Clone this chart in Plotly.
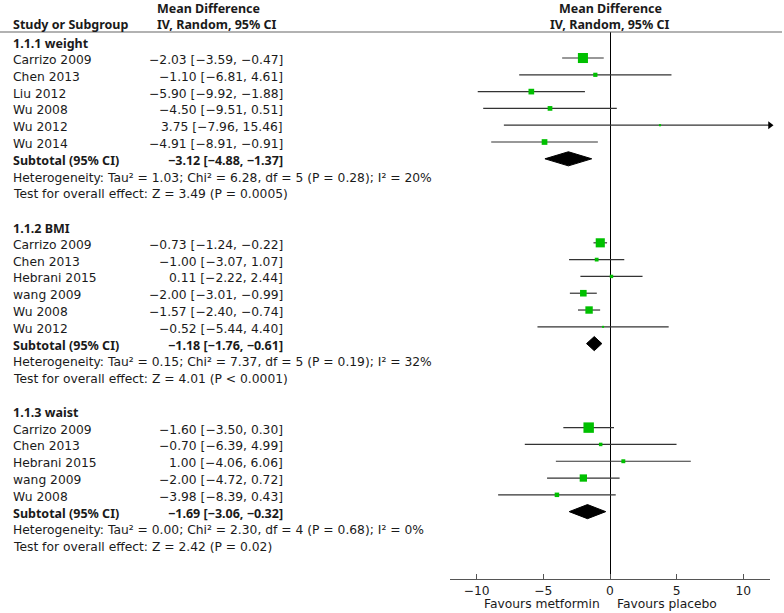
import math
import plotly.graph_objects as go

FONT = "DejaVu Sans"
BOLD_FONT = "Noto Sans"
TXT = "#1a1a1a"
GREEN = "#00C000"

# subgroup data
group_titles = ["1.1.1 weight", "1.1.2 BMI", "1.1.3 waist"]

weight_studies = ["Carrizo 2009", "Chen 2013", "Liu 2012", "Wu 2008", "Wu 2012", "Wu 2014"]
weight_md = [-2.03, -1.10, -5.90, -4.50, 3.75, -4.91]
weight_lo = [-3.59, -6.81, -9.92, -9.51, -7.96, -8.91]
weight_hi = [-0.47, 4.61, -1.88, 0.51, 15.46, -0.91]
weight_pct = [48.1, 8.4, 15.3, 10.6, 2.2, 15.4]
weight_total = [-3.12, -4.88, -1.37]
weight_het = "Heterogeneity: Tau² = 1.03; Chi² = 6.28, df = 5 (P = 0.28); I² = 20%"
weight_test = "Test for overall effect: Z = 3.49 (P = 0.0005)"

bmi_studies = ["Carrizo 2009", "Chen 2013", "Hebrani 2015", "wang 2009", "Wu 2008", "Wu 2012"]
bmi_md = [-0.73, -1.00, 0.11, -2.00, -1.57, -0.52]
bmi_lo = [-1.24, -3.07, -2.22, -3.01, -2.40, -5.44]
bmi_hi = [-0.22, 1.07, 2.44, -0.99, -0.74, 4.40]
bmi_pct = [39.5, 6.8, 5.5, 20.7, 26.1, 1.3]
bmi_total = [-1.18, -1.76, -0.61]
bmi_het = "Heterogeneity: Tau² = 0.15; Chi² = 7.37, df = 5 (P = 0.19); I² = 32%"
bmi_test = "Test for overall effect: Z = 4.01 (P < 0.0001)"

waist_studies = ["Carrizo 2009", "Chen 2013", "Hebrani 2015", "wang 2009", "Wu 2008"]
waist_md = [-1.60, -0.70, 1.00, -2.00, -3.98]
waist_lo = [-3.50, -6.39, -4.06, -4.72, -8.39]
waist_hi = [0.30, 4.99, 6.06, 0.72, 0.43]
waist_pct = [51.9, 5.8, 7.3, 25.3, 9.6]
waist_total = [-1.69, -3.06, -0.32]
waist_het = "Heterogeneity: Tau² = 0.00; Chi² = 2.30, df = 4 (P = 0.68); I² = 0%"
waist_test = "Test for overall effect: Z = 2.42 (P = 0.02)"

x_ticks = [-10, -5, 0, 5, 10]
x_lim = [-12, 12]

groups = [
    (weight_studies, weight_md, weight_lo, weight_hi, weight_pct, weight_total, weight_het, weight_test),
    (bmi_studies, bmi_md, bmi_lo, bmi_hi, bmi_pct, bmi_total, bmi_het, bmi_test),
    (waist_studies, waist_md, waist_lo, waist_hi, waist_pct, waist_total, waist_het, waist_test),
]


def fmt(v):
    return f"{v:.2f}".replace("-", "−")


def ci_text(md, lo, hi):
    return f"{fmt(md)} [{fmt(lo)}, {fmt(hi)}]"


W, H = 784, 613


def px(x):
    return x / W


def py(y):
    return 1 - y / H


fig = go.Figure()
annots = []


def txt(x, y, s, bold=False, anchor="left", xref="paper", yref="y", shift=-2):
    annots.append(dict(x=x, y=y, xref=xref, yref=yref, text=f"<b>{s}</b>" if bold else s,
                       showarrow=False, xanchor=anchor, yanchor="middle", yshift=shift,
                       borderpad=0, borderwidth=0,
                       font=dict(family=BOLD_FONT if bold else FONT, size=12.5 if bold else 12.3, color=TXT)))


NAME_X = px(13)
EFF_X = px(283)

row = 0
for (studies, md, lo, hi, pct, tot, het, test), title in zip(groups, group_titles):
    txt(NAME_X, row, title, bold=True)
    for i, s in enumerate(studies):
        r = row + 1 + i
        txt(NAME_X, r, s)
        txt(EFF_X, r, ci_text(md[i], lo[i], hi[i]), anchor="right")
        a, b = max(lo[i], x_lim[0]), min(hi[i], x_lim[1])
        fig.add_trace(go.Scatter(x=[a, b], y=[r, r], mode="lines",
                                 line=dict(color="#333333", width=1.2), showlegend=False, hoverinfo="skip"))
        if hi[i] > x_lim[1]:
            fig.add_trace(go.Scatter(x=[x_lim[1]], y=[r], mode="markers",
                                     marker=dict(symbol="triangle-right", size=7, color="black"),
                                     showlegend=False, cliponaxis=False, hoverinfo="skip"))
        fig.add_trace(go.Scatter(x=[md[i]], y=[r], mode="markers",
                                 marker=dict(symbol="square", size=max(2, 1.45 * math.sqrt(pct[i])),
                                             color=GREEN, line=dict(width=0)),
                                 showlegend=False))
    r = row + 1 + len(studies)
    txt(NAME_X, r, "Subtotal (95% CI)", bold=True)
    txt(EFF_X, r, ci_text(*tot), bold=True, anchor="right")
    m, l, h = tot
    fig.add_trace(go.Scatter(x=[l, m, h, m, l], y=[r, r - 0.42, r, r + 0.42, r], mode="lines",
                             fill="toself", fillcolor="black", line=dict(color="black", width=1),
                             showlegend=False))
    txt(NAME_X, r + 1, het)
    txt(NAME_X, r + 2, test)
    row = r + 4

# headers
txt(px(157), py(8), "Mean Difference", bold=True, yref="paper", shift=0)
txt(px(157), py(25), "IV, Random, 95% CI", bold=True, yref="paper", shift=0)
txt(NAME_X, py(25), "Study or Subgroup", bold=True, yref="paper", shift=0)
txt(0, py(8), "Mean Difference", bold=True, anchor="center", xref="x", yref="paper", shift=0)
txt(0, py(25), "IV, Random, 95% CI", bold=True, anchor="center", xref="x", yref="paper", shift=0)
txt(px(600), py(604), "Favours metformin", anchor="right", yref="paper", shift=0)
txt(px(617), py(604), "Favours placebo", anchor="left", yref="paper", shift=0)

fig.add_shape(type="line", xref="paper", yref="paper", x0=0, x1=px(782),
              y0=py(32), y1=py(32), line=dict(color="#666666", width=1.2))

fig.update_layout(
    width=W, height=H, margin=dict(l=0, r=0, t=0, b=0),
    paper_bgcolor="white", plot_bgcolor="white",
    annotations=annots,
    xaxis=dict(domain=[px(450), px(770)], range=x_lim, tickvals=x_ticks, ticks="inside", ticklen=5,
               tickcolor="#555555", showline=True, linecolor="#555555", linewidth=1.2,
               showgrid=False, zeroline=True, zerolinecolor="black", zerolinewidth=1.2,
               tickfont=dict(family=FONT, size=12.3, color=TXT)),
    yaxis=dict(domain=[py(579), py(32)], range=[32.01, -0.548], visible=False,
               showgrid=False, zeroline=False),
)

# drop the browser's default 8px body margin so the figure fills the window
fig.write_html("out.html", config={"displayModeBar": False},
               post_script="document.body.style.margin='0';")
